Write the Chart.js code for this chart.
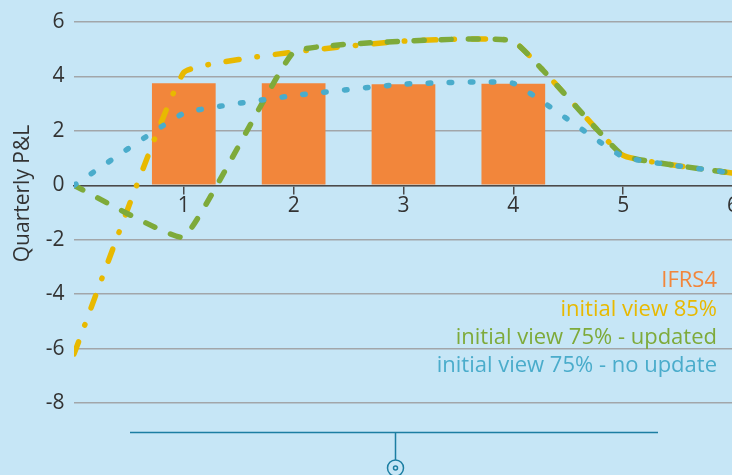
<!DOCTYPE html>
<html><head><meta charset="utf-8">
<script src="https://cdn.jsdelivr.net/npm/chart.js@4"></script>
<style>
html,body{margin:0;padding:0;background:#c6e6f6;overflow:hidden;width:732px;height:475px}
#wrap{position:absolute;left:0;top:0;width:739px;height:475px}
</style></head><body>
<div id="wrap"><canvas id="c" width="739" height="475"></canvas></div>
<script>
// ---- data ----
const quarters = [0, 1, 2, 3, 4, 5, 6];
const barQuarters = [1, 2, 3, 4];
const ifrs4 = [3.75, 3.75, 3.72, 3.73];
const view85 = [-6.2, 4.15, 4.9, 5.3, 5.3, 1.1, 0.45];
const view75Updated = [0, -1.9, 4.9, 5.3, 5.3, 1.1, 0.45];
const view75NoUpdate = [0, 2.65, 3.3, 3.72, 3.75, 1.05, 0.45];
const seriesLabels = ['IFRS4', 'initial view 85%', 'initial view 75% - updated', 'initial view 75% - no update'];
const yAxisTitle = 'Quarterly P&L';

const C_BG = '#c6e6f6', C_OR = '#f2863b', C_YE = '#e8b900', C_GR = '#7eaa3a', C_BL = '#4aaccb';
const C_TXT = '#333333';
const FONT = '"Open Sans", "Noto Sans", sans-serif';

const pts = (xs, ys) => xs.map((x, i) => ({x: x, y: ys[i]}));

const bgPlugin = {
  id: 'bg',
  beforeDraw(chart) {
    const ctx = chart.ctx;
    ctx.save(); ctx.fillStyle = C_BG; ctx.fillRect(0, 0, chart.width, chart.height); ctx.restore();
  }
};

const titlePlugin = {
  id: 'yTitle',
  afterDraw(chart) {
    const ctx = chart.ctx;
    ctx.save();
    ctx.translate(23, 193.5);
    ctx.rotate(-Math.PI / 2);
    ctx.font = '21px ' + FONT;
    ctx.fillStyle = C_TXT;
    ctx.textAlign = 'center';
    ctx.textBaseline = 'middle';
    ctx.fillText(yAxisTitle, 0, 0);
    ctx.restore();
  }
};

const legendPlugin = {
  id: 'textLegend',
  afterDraw(chart) {
    const ctx = chart.ctx;
    const baselines = [287, 315.5, 343.5, 372];
    ctx.save();
    ctx.font = '22px ' + FONT;
    ctx.textAlign = 'right';
    ctx.textBaseline = 'alphabetic';
    chart.data.datasets.forEach((ds, i) => {
      ctx.fillStyle = ds.legendColor;
      ctx.fillText(ds.label, 717, baselines[i]);
    });
    ctx.restore();
  }
};

const decoPlugin = {
  id: 'deco',
  afterDraw(chart) {
    const ctx = chart.ctx;
    ctx.save();
    ctx.strokeStyle = '#1b7ea2';
    ctx.lineWidth = 1.5;
    ctx.beginPath();
    ctx.moveTo(130, 432.5); ctx.lineTo(658, 432.5);
    ctx.moveTo(395.5, 432.5); ctx.lineTo(395.5, 460);
    ctx.stroke();
    ctx.beginPath(); ctx.arc(395.5, 468, 8, 0, Math.PI * 2); ctx.stroke();
    ctx.beginPath(); ctx.arc(395.5, 468, 2, 0, Math.PI * 2); ctx.stroke();
    ctx.restore();
  }
};

const lineCommon = {
  type: 'line', pointRadius: 0, pointHoverRadius: 0, fill: false, borderWidth: 5.5,
  borderCapStyle: 'round', borderJoinStyle: 'round', tension: 0.1
};

new Chart(document.getElementById('c'), {
  type: 'line',
  data: {
    datasets: [
      { type: 'bar', label: seriesLabels[0], data: pts(barQuarters, ifrs4), backgroundColor: C_OR,
        legendColor: C_OR, borderWidth: 0, barPercentage: 0.58, categoryPercentage: 1, order: 4 },
      Object.assign({}, lineCommon, { label: seriesLabels[1], data: pts(quarters, view85), borderColor: C_YE,
        legendColor: C_YE, borderDash: [13, 18, 0.5, 18], order: 3 }),
      Object.assign({}, lineCommon, { label: seriesLabels[2], data: pts(quarters, view75Updated), borderColor: C_GR,
        legendColor: C_GR, borderDash: [10, 17], order: 2 }),
      Object.assign({}, lineCommon, { label: seriesLabels[3], data: pts(quarters, view75NoUpdate), borderColor: C_BL,
        legendColor: C_BL, borderDash: [2.5, 18.5], order: 1 })
    ]
  },
  options: {
    responsive: false, devicePixelRatio: 1, animation: false,
    layout: { padding: { top: 21, left: 36.2, right: 0, bottom: 72 } },
    plugins: { legend: { display: false }, tooltip: { enabled: false } },
    scales: {
      x: {
        type: 'linear', min: 0, max: 6, offset: false,
        position: { y: 0 },
        grid: { display: true, drawOnChartArea: false, drawTicks: true, tickLength: 8, offset: false,
          color: ctx => (ctx.tick && ctx.tick.value === 0) ? 'rgba(0,0,0,0)' : '#4a4a4a', lineWidth: 1.5 },
        border: { display: true, color: '#4a4a4a', width: 1.5 },
        ticks: { stepSize: 1, padding: 0, color: C_TXT, font: { family: FONT, size: 21 },
          callback: v => v === 0 ? '' : String(v), maxRotation: 0 }
      },
      y: {
        type: 'linear', min: -8, max: 6,
        grid: { drawTicks: false, color: '#a2a6a9', lineWidth: 1.5 },
        border: { display: false },
        ticks: { stepSize: 2, padding: 9.5, color: C_TXT, font: { family: FONT, size: 21 } },
        title: { display: false, text: yAxisTitle }
      }
    }
  },
  plugins: [bgPlugin, titlePlugin, legendPlugin, decoPlugin]
});
</script>
</body></html>
